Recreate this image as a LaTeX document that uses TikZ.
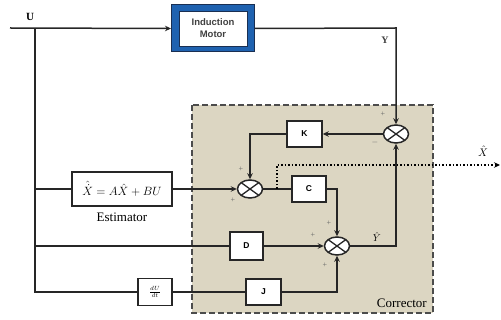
\documentclass[tikz,border=0pt]{standalone}
\usepackage{fontspec}
\setmainfont{Liberation Serif}
\setsansfont{Liberation Sans}
\usetikzlibrary{arrows.meta,shapes.geometric}
\definecolor{corrfill}{HTML}{DCD6C2}
\definecolor{motorblue}{HTML}{1F62B0}
\definecolor{motornavy}{HTML}{1A2F52}
\tikzset{
  wire/.style={line width=1.5pt, draw=black!85},
  arr/.style={wire, -{Stealth[length=6pt,width=5.5pt]}},
  blk/.style={draw=black!85, line width=1.5pt, fill=white, inner sep=0pt,
    font=\sffamily\bfseries\fontsize{8.5}{10}\selectfont},
  sumj/.style={ellipse, draw=black!85, line width=1.5pt, fill=white,
    minimum width=25pt, minimum height=18pt, inner sep=0pt,
    path picture={\draw[line width=1.3pt]
      (path picture bounding box.north west)--(path picture bounding box.south east)
      (path picture bounding box.north east)--(path picture bounding box.south west);}},
  sgn/.style={font=\fontsize{8}{9}\selectfont, text=black!60, inner sep=0pt},
  lbl/.style={font=\fontsize{11}{13}\selectfont, inner sep=0pt}
}
\begin{document}
\begin{tikzpicture}[x=1pt,y=-1pt]
\useasboundingbox (0,0) rectangle (501,320);

% corrector region
\draw[fill=corrfill, draw=black!70, line width=1.5pt, dash pattern=on 6pt off 3pt]
  (192,105) rectangle (433,313);
\node[font=\fontsize{13}{15}\selectfont, anchor=south east, inner sep=0pt] (corrlbl) at (427,308) {Corrector};

% induction motor
\node[draw=motornavy, fill=motorblue, line width=1pt, minimum width=83pt, minimum height=47pt] (motor) at (213,28.5) {};
\node[draw=motornavy, fill=white, line width=0.8pt, minimum width=68pt, minimum height=35pt, align=center,
  font=\sffamily\bfseries\fontsize{9.5}{12}\selectfont, text=black!75, inner sep=0pt] (motortxt) at (213,28.5) {Induction\\Motor};

% blocks
\node[blk, minimum width=100pt, minimum height=34pt, font=\fontsize{12}{14}\selectfont] (est) at (122,189) {$\hat{\dot X} = A\hat X + BU$};
\node[font=\fontsize{13}{15}\selectfont, inner sep=0pt] (estlbl) at (122,217) {Estimator};
\node[blk, minimum width=35pt, minimum height=26pt] (K) at (304.5,134) {K};
\node[blk, minimum width=34pt, minimum height=26pt] (C) at (309,189) {C};
\node[blk, minimum width=33pt, minimum height=28pt] (D) at (246.5,246) {D};
\node[blk, minimum width=35pt, minimum height=26pt] (J) at (263.5,292) {J};
\node[blk, minimum width=34pt, minimum height=27pt, font=\fontsize{9}{9}\selectfont] (dudt) at (155,292) {$\frac{dU}{dt}$};

% summing junctions
\node[sumj] (s1) at (396,134) {};
\node[sumj] (s2) at (250,189) {};
\node[sumj] (s3) at (337,246) {};

% routing points
\coordinate (uin) at (10,28);
\coordinate (split) at (35,28);
\coordinate (vbot) at (35,292);
\coordinate (vest) at (35,189);
\coordinate (vd) at (35,246);
\coordinate (ybend) at (396,28);
\coordinate (kbend) at (250,134);
\coordinate (tap) at (277,189);
\coordinate (tapup) at (277,165);
\coordinate (xout) at (500,165);
\coordinate (cbend) at (337,189);
\coordinate (jbend) at (337,292);
\coordinate (yhbend) at (396,246);

% connectors
\draw[arr] (uin) -- (motor.west);
\draw[wire] (split) -- (vbot) -- (dudt.west);
\draw[wire] (vest) -- (est.west);
\draw[wire] (vd) -- (D.west);
\draw[arr] (est.east) -- (s2.west);
\draw[arr] (motor.east) -- (ybend) -- (s1.north);
\draw[arr] (s1.west) -- (K.east);
\draw[arr] (K.west) -- (kbend) -- (s2.north);
\draw[wire] (s2.east) -- (C.west);
\draw[line width=1.5pt, dotted, -{Stealth[length=6pt,width=5.5pt]}] (tap) -- (tapup) -- (xout);
\draw[arr] (C.east) -- (cbend) -- (s3.north);
\draw[arr] (D.east) -- (s3.west);
\draw[wire] (dudt.east) -- (J.west);
\draw[arr] (J.east) -- (jbend) -- (s3.south);
\draw[arr] (s3.east) -- (yhbend) -- (s1.south);

% signal labels
\node[lbl, font=\bfseries\fontsize{11}{13}\selectfont] (ulbl) at (30,17) {U};
\node[lbl, font=\bfseries\fontsize{10}{12}\selectfont, text=black!75] (ylbl) at (385,40) {Y};
\node[lbl] (xhlbl) at (483,151) {$\hat X$};
\node[lbl, font=\fontsize{10}{12}\selectfont] (yhlbl) at (377,237) {$\hat Y$};

% signs
\node[sgn] (p1a) at (383,114) {+};
\node[sgn] (m1b) at (375,143) {$-$};
\node[sgn] (p2a) at (241,169) {+};
\node[sgn] (p2b) at (233,200) {+};
\node[sgn] (p3a) at (329,223) {+};
\node[sgn] (p3b) at (313,235) {+};
\node[sgn] (p3c) at (325,265) {+};
\end{tikzpicture}
\end{document}
